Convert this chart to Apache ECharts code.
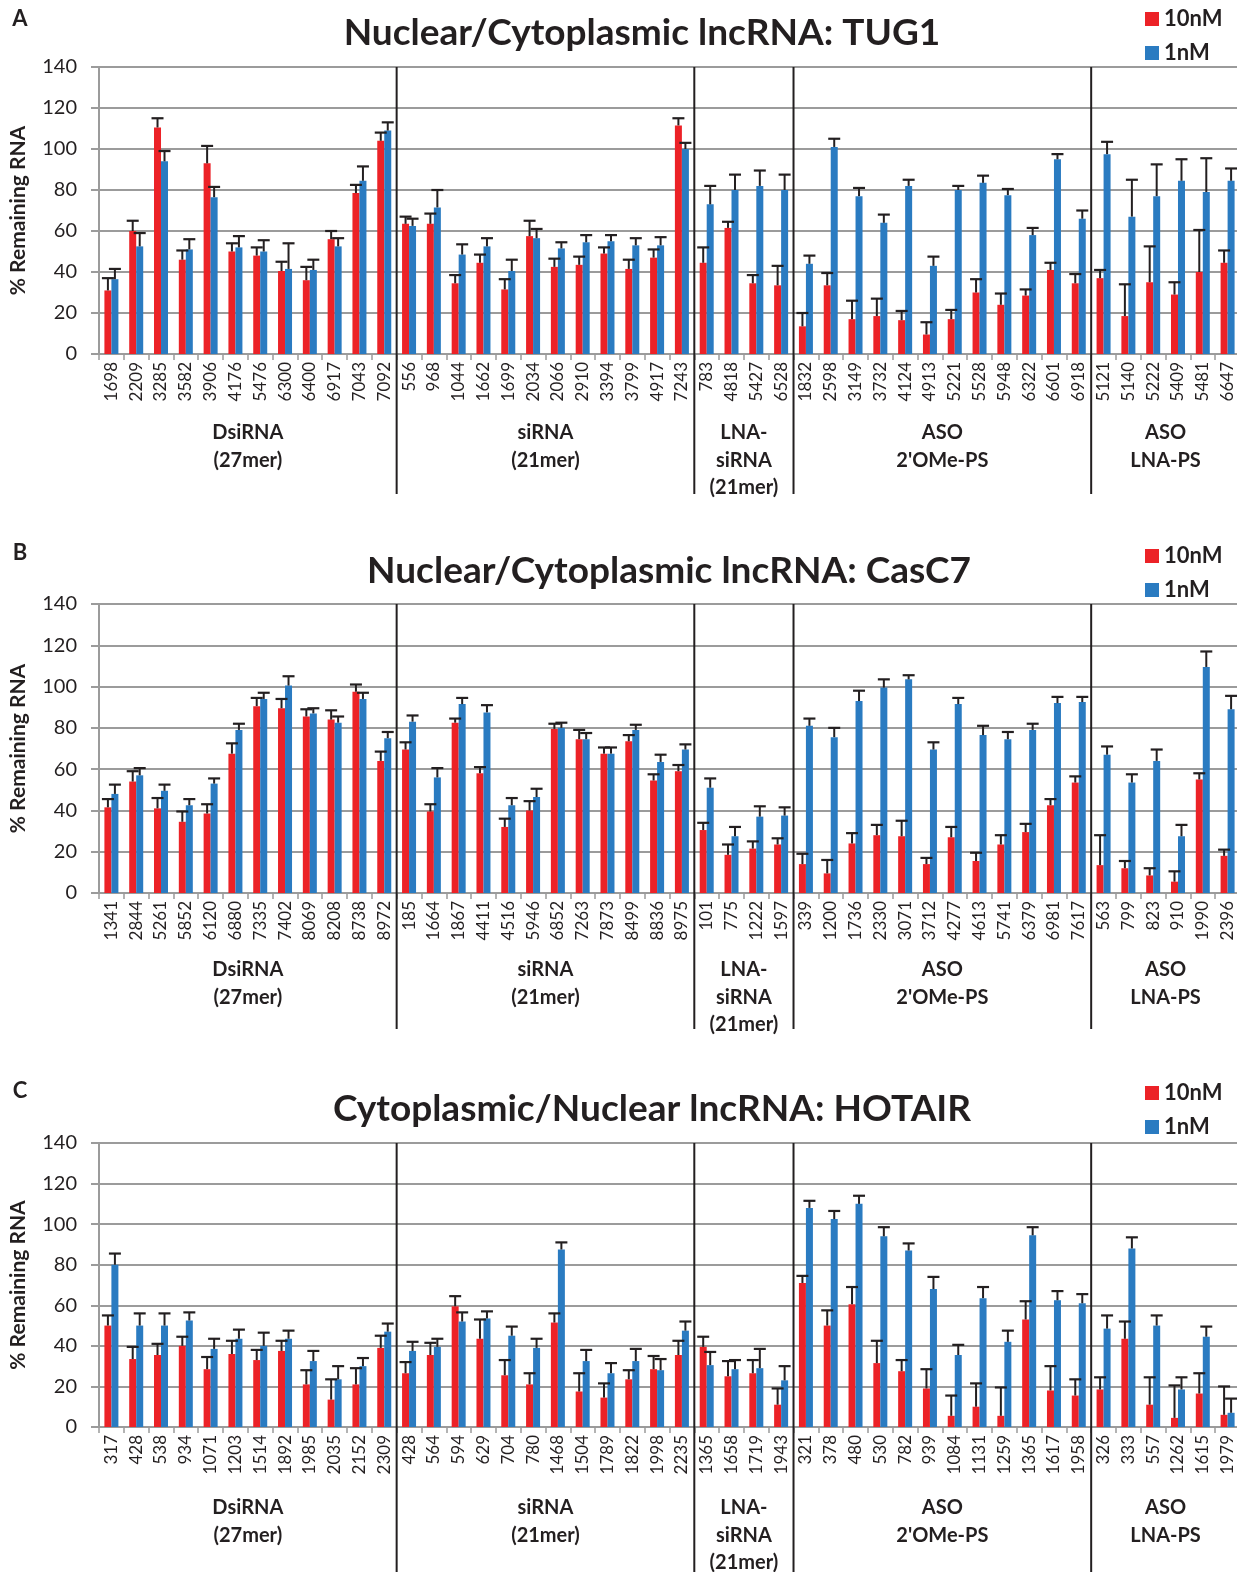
<!DOCTYPE html>
<html><head><meta charset="utf-8">
<script src="https://cdn.jsdelivr.net/npm/echarts@6/dist/echarts.min.js"></script>
<style>html,body{margin:0;padding:0;background:#fff}#c{width:1237px;height:1572px}</style>
</head><body><div id="c"></div>
<script>
const yTicks = [0, 20, 40, 60, 80, 100, 120, 140];
const groupSizes = [12, 12, 4, 12, 6];
const groupNames = [['DsiRNA','(27mer)'],['siRNA','(21mer)'],['LNA-','siRNA','(21mer)'],['ASO',"2'OMe-PS"],['ASO','LNA-PS']];
const titles = ['Nuclear/Cytoplasmic lncRNA: TUG1','Nuclear/Cytoplasmic lncRNA: CasC7','Cytoplasmic/Nuclear lncRNA: HOTAIR'];
const panelLetters = ['A','B','C'];
const seriesNames = ['10nM','1nM'];

const catsA = ['1698','2209','3285','3582','3906','4176','5476','6300','6400','6917','7043','7092','556','968','1044','1662','1699','2034','2066','2910','3394','3799','4917','7243','783','4818','5427','6528','1832','2598','3149','3732','4124','4913','5221','5528','5948','6322','6601','6918','5121','5140','5222','5409','5481','6647'];
const redA = [31,60,110.5,46,93,50,48,40.5,36,56,78.5,104, 63.5,63.5,34.5,44.5,31.5,57.5,42.5,43.5,49,41.5,47,111.5, 44.5,61.5,34.5,33.5, 13.5,33.5,17,18.5,16.5,9.5,17,30,24,28.5,41,34.5, 37,18.5,35,29,40,44.5];
const redErrA = [6,5,4.5,4.5,8.5,4,4,4.5,6.5,4,4,4, 3.5,5,4,4,5,7.5,4,4,3,4.5,4,3.5, 7.5,3,4,9.5, 6.5,6,9,8.5,4.5,6,4.5,6.5,5.5,3,3.5,4.5, 4,15.5,17.5,6,20.5,6];
const blueA = [36.5,52.5,94,51,76.5,52,50,41.5,41,52.5,84.5,109, 62.5,71.5,48.5,52.5,40.5,56.5,51.5,54.5,55,53,53,100, 73,80,82,80, 44,101,77,64,82,43,80,83.5,77.5,58,95,66, 97.5,67,77,84.5,79,84.5];
const blueErrA = [5,6.5,5,5,5,5.5,5.5,12.5,5,4,7,4, 3.5,8.5,5,4,5.5,4.5,3,3.5,3,3.5,4,3, 9,7.5,7.5,7.5, 4,4,4,4,3,4.5,2,3.5,3,3.5,2.5,4, 6,18,15.5,10.5,16.5,6];

const catsB = ['1341','2844','5261','5852','6120','6880','7335','7402','8069','8208','8738','8972','185','1664','1867','4411','4516','5946','6852','7263','7873','8499','8836','8975','101','775','1222','1597','339','1200','1736','2330','3071','3712','4277','4613','5741','6379','6981','7617','563','799','823','910','1990','2396'];
const redB = [41.5,54,41,34.5,38.5,67.5,90.5,89.5,85.5,84,97.5,64, 69.5,39.5,82.5,58,32,40,79.5,74.5,67.5,73.5,54.5,59, 30.5,18.5,21.5,23.5, 14,9.5,24,28,27.5,14,27,15.5,23.5,29.5,42.5,53.5, 13.5,12,8.5,5.5,55,18];
const redErrB = [4,5,5,5,4.5,5,4,4.5,3.5,4.5,3.5,4.5, 3.5,3.5,2,3,4,4.5,2.5,4.5,3,3,3,3, 3.5,5,3.5,3, 5,6.5,5,5,7.5,3,5,4,4.5,4,3,3, 14.5,3.5,3.5,5,3,3];
const blueB = [48,57,49.5,42.5,53,79,94,100.5,87,82.5,94,75, 83,56,91.5,87.5,42.5,46.5,80,74.5,67.5,79,63.5,69.5, 51,27.5,37,37.5, 81,75.5,93,99.5,103.5,69.5,91.5,76.5,74.5,79,92,92.5, 67,53.5,64,27.5,109.5,89];
const blueErrB = [4.5,3.5,3,3,2.5,3,3,4.5,2.5,3,3,3, 3,4.5,3,3.5,3.5,4,2.5,3,3,2.5,3.5,2.5, 4.5,4.5,5,4, 3.5,4.5,5,4,2,3.5,3,4.5,3.5,3,3,2.5, 4,4,5.5,5.5,7.5,6.5];

const catsC = ['317','428','538','934','1071','1203','1514','1892','1985','2035','2152','2309','428','564','594','629','704','780','1468','1504','1789','1822','1998','2235','1365','1658','1719','1943','321','378','480','530','782','939','1084','1131','1259','1365','1617','1958','326','333','557','1262','1615','1979'];
const redC = [50,33.5,35.5,40,28.5,36,33,37.5,21,13.5,21,39, 26.5,35.5,59.5,43.5,25.5,21,51.5,17.5,14.5,23.5,28.5,35.5, 39.5,25,26.5,11, 71,50,60.5,31.5,27.5,19,5.5,10,5.5,53,18,15.5, 18.5,43.5,11,4.5,16.5,6];
const redErrC = [5,6,5.5,4.5,6,6.5,5,5,7,10,8,6, 5.5,6,5,9.5,7.5,5.5,4.5,9,7,4.5,6.5,7, 5,7.5,6.5,8, 3.5,7.5,8.5,11,5.5,9.5,10,11.5,14,9,12,8, 6,8.5,13.5,16,10,14];
const blueC = [80,50,50,52.5,38.5,43.5,40,43.5,32.5,23.5,30,47, 37.5,39.5,52,53.5,45,39,87.5,32.5,26.5,32.5,28,47.5, 30.5,28.5,29,23, 108,102.5,110,94,87,68,35.5,63.5,42,94.5,62.5,61, 48.5,88,50,18.5,44.5,7];
const blueErrC = [5.5,6,6,4,5,4.5,6.5,4,5,6.5,4,4, 4.5,4,4.5,3.5,4.5,4.5,3.5,5.5,5,6,5.5,4.5, 6.5,4.5,9.5,7, 3.5,4,4,4.5,3.5,6,5,5.5,5.5,4,4.5,4.5, 6.5,5.5,5,6,5,7];

const panels = [
  {cats: catsA, red: redA, redErr: redErrA, blue: blueA, blueErr: blueErrA},
  {cats: catsB, red: redB, redErr: redErrB, blue: blueB, blueErr: blueErrB},
  {cats: catsC, red: redC, redErr: redErrC, blue: blueC, blueErr: blueErrC}
];

const RED = '#EC2227', BLUE = '#2A7BC1', INK = '#231f20', GRAY = '#9b9b9b';
const FONT = 'Lato';
const layout = [
  {top: 67, height: 287, legendTop: 3, titleX: 642, titleY: 33, letterY: 19, divBottom: 494, grpOff: 79},
  {top: 604, height: 289, legendTop: 540, titleX: 669, titleY: 571, letterY: 553, divBottom: 1029, grpOff: 77},
  {top: 1143, height: 284, legendTop: 1077, titleX: 652, titleY: 1109, letterY: 1091, divBottom: 1572, grpOff: 81}
];
const BW = 7;

function errRender(side) {
  return function (params, api) {
    const base = api.coord([api.value(0), api.value(1)]);
    const top = api.coord([api.value(0), api.value(2)]);
    const x = base[0] + side * BW / 2;
    return {
      type: 'group',
      children: [
        {type: 'line', shape: {x1: x, y1: base[1], x2: x, y2: top[1]}, style: {stroke: INK, lineWidth: 2}},
        {type: 'line', shape: {x1: x - 6, y1: top[1], x2: x + 6, y2: top[1]}, style: {stroke: INK, lineWidth: 2.2}}
      ]
    };
  };
}

const grid = [], xAxis = [], yAxis = [], series = [], legend = [];
panels.forEach((p, i) => {
  const L = layout[i];
  grid.push({left: 99, right: -3, top: L.top, height: L.height, containLabel: false, outerBoundsMode: 'none'});
  xAxis.push({
    type: 'category', gridIndex: i, data: p.cats, boundaryGap: true,
    axisLine: {lineStyle: {color: GRAY, width: 2}},
    axisTick: {show: true, length: 6, lineStyle: {color: GRAY, width: 1.5}},
    axisLabel: {interval: 0, rotate: 90, margin: 8, fontSize: 17, color: INK, fontFamily: FONT}
  });
  yAxis.push({
    type: 'value', gridIndex: i, min: 0, max: 140, interval: 20,
    name: '% Remaining RNA', nameLocation: 'middle', nameGap: 70,
    nameTextStyle: {fontSize: 21, fontWeight: 'bold', color: INK, fontFamily: FONT},
    axisLine: {show: true, lineStyle: {color: GRAY, width: 2}},
    axisTick: {show: true, length: 8, lineStyle: {color: GRAY, width: 2}},
    splitLine: {show: true, lineStyle: {color: GRAY, width: 2}},
    axisLabel: {fontSize: 20, color: INK, margin: 22, fontFamily: FONT,
      formatter: v => yTicks.includes(v) ? String(v) : ''}
  });
  series.push({name: seriesNames[0], type: 'bar', xAxisIndex: i, yAxisIndex: i, data: p.red,
    barWidth: BW, barGap: '0%', itemStyle: {color: RED}, z: 2});
  series.push({name: seriesNames[1], type: 'bar', xAxisIndex: i, yAxisIndex: i, data: p.blue,
    barWidth: BW, barGap: '0%', itemStyle: {color: BLUE}, z: 2});
  series.push({name: 'err10_' + i, type: 'custom', xAxisIndex: i, yAxisIndex: i, z: 5, silent: true,
    renderItem: errRender(-1), data: p.red.map((v, k) => [k, v, v + p.redErr[k]]), clip: false});
  series.push({name: 'err1_' + i, type: 'custom', xAxisIndex: i, yAxisIndex: i, z: 5, silent: true,
    renderItem: errRender(1), data: p.blue.map((v, k) => [k, v, v + p.blueErr[k]]), clip: false});
  legend.push({
    data: seriesNames, orient: 'vertical', left: 1140, top: L.legendTop,
    itemWidth: 14, itemHeight: 14, itemGap: 12, icon: 'rect',
    textStyle: {fontSize: 22, fontWeight: 'bold', color: INK, fontFamily: FONT}
  });
});

const chart = echarts.init(document.getElementById('c'), null, {renderer: 'canvas'});
chart.setOption({
  animation: false,
  backgroundColor: '#fff',
  color: [RED, BLUE],
  grid, xAxis, yAxis, series, legend
});

const graphics = [];
panels.forEach((p, i) => {
  const L = layout[i];
  const yTop = chart.convertToPixel({yAxisIndex: i}, 140);
  const yBot = chart.convertToPixel({yAxisIndex: i}, 0);
  const cx = k => chart.convertToPixel({xAxisIndex: i}, k);
  graphics.push({type: 'text', x: L.titleX, y: L.titleY,
    style: {text: titles[i], font: 'bold 37px ' + FONT, fill: INK, textAlign: 'center', textVerticalAlign: 'middle'}});
  graphics.push({type: 'text', x: 20, y: L.letterY,
    style: {text: panelLetters[i], font: 'bold 22px ' + FONT, fill: INK, textAlign: 'center', textVerticalAlign: 'middle'}});
  let start = 0;
  groupSizes.forEach((n, g) => {
    const end = start + n;
    const center = (cx(start) + cx(end - 1)) / 2;
    groupNames[g].forEach((line, li) => {
      graphics.push({type: 'text', x: center, y: yBot + L.grpOff + li * 27.5,
        style: {text: line, font: 'bold 20px ' + FONT, fill: INK, textAlign: 'center', textVerticalAlign: 'middle'}});
    });
    if (g < groupSizes.length - 1) {
      const bx = (cx(end - 1) + cx(end)) / 2;
      graphics.push({type: 'line', shape: {x1: bx, y1: yTop, x2: bx, y2: L.divBottom},
        style: {stroke: INK, lineWidth: 2}, z: 10});
    }
    start = end;
  });
});
chart.setOption({graphic: graphics});
</script></body></html>
